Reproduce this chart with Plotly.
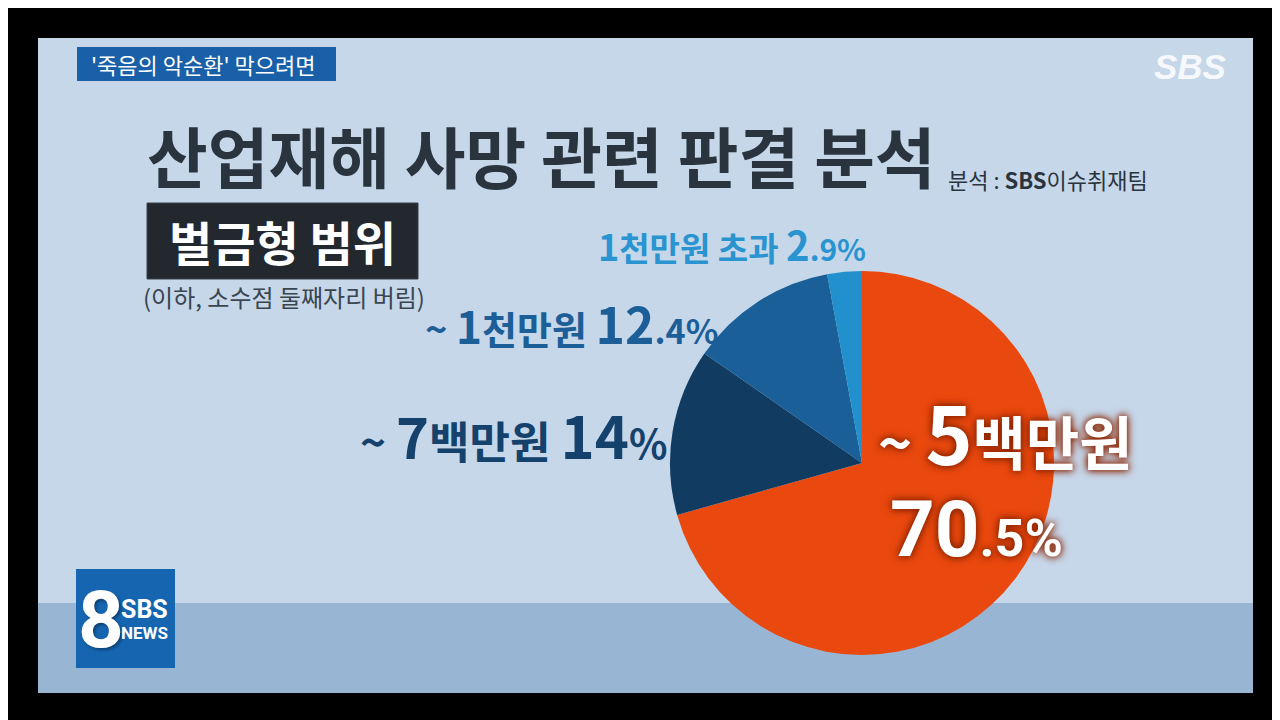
import plotly.graph_objects as go

# ---- data ----
categories = ["~ 5백만원", "~ 7백만원", "~ 1천만원", "1천만원 초과"]
values = [70.5, 14, 12.4, 2.9]
slice_colors = ["#e9490e", "#123b62", "#1a5f98", "#2290cc"]
label_colors = ["#ffffff", "#14426c", "#1c5e98", "#2a94d0"]

title_text = "산업재해 사망 관련 판결 분석"
source_text = "분석 : <b>SBS</b>이슈취재팀"
tag_text = "'죽음의 악순환' 막으려면"
box_text = "벌금형 범위"
note_text = "(이하, 소수점 둘째자리 버림)"

# page body has an 8px margin, so the figure is drawn 8px in from the corner
OFF = 8
W, H = 1280 - OFF, 720 - OFF
FONT = "Noto Sans CJK KR"


def px(x):
    return (x - OFF) / W


def py(y):
    return 1 - (y - OFF) / H


def pct(v, big, small):
    s = f"{v:g}"
    if "." in s:
        i, f = s.split(".")
        return (f'<span style="font-size:{big}px">{i}</span>'
                f'<span style="font-size:{small}px">.{f}%</span>')
    return (f'<span style="font-size:{big}px">{s}</span>'
            f'<span style="font-size:{small}px">%</span>')


def cat_text(c, base, digit):
    out = ""
    for ch in c:
        if ch.isdigit():
            out += f'<span style="font-size:{digit}px">{ch}</span>'
        else:
            out += ch
    return f'<span style="font-size:{base}px">{out}</span>'


fig = go.Figure()

cx, cy, r = 862, 463, 192
fig.add_trace(go.Pie(
    labels=categories,
    values=values,
    sort=False,
    direction="clockwise",
    rotation=0,
    marker=dict(colors=slice_colors, line=dict(width=0)),
    textinfo="none",
    hoverinfo="label+value",
    showlegend=False,
    domain=dict(x=[px(cx - r), px(cx + r)], y=[py(cy + r), py(cy - r)]),
))


def rect(x0, y0, x1, y1, color, line=None):
    return dict(type="rect", xref="paper", yref="paper",
                x0=px(x0), x1=px(x1), y0=py(y1), y1=py(y0),
                fillcolor=color, line=line or dict(width=0), layer="below")


shapes = [
    dict(type="rect", xref="paper", yref="paper", x0=0, x1=1, y0=0, y1=1,
         fillcolor="#000000", line=dict(width=0), layer="below"),
    rect(38, 38, 1253, 603, "#c6d7e9"),
    rect(38, 603, 1253, 693, "#98b5d4"),
    rect(77, 47, 336, 81, "#1960a8"),
    rect(147, 203, 418, 279, "#22282e", dict(width=1, color="#3a4148")),
    rect(76, 569, 175, 668, "#1565b0"),
]

ann = []


def A(text, x, y, size, color, xanchor="left", weight="normal", shadow="none", family=FONT):
    ann.append(dict(text=text, x=px(x), y=py(y), xref="paper", yref="paper",
                    xanchor=xanchor, yanchor="middle", showarrow=False, align="left",
                    font=dict(family=family, size=size, color=color, weight=weight,
                              shadow=shadow)))


A(tag_text, 89, 64, 22, "#ffffff")
A(title_text, 145, 154, 66, "#2a343e", weight="bold")
A(source_text, 946, 179, 22, "#2a343e")
A(box_text, 167, 240, 47, "#ffffff", weight="bold")
A(note_text, 141, 296, 24, "#3a4550")

# slice labels
A(cat_text(categories[3], 33, 36) + " " + pct(values[3], 40, 30), 596, 244, 33,
  label_colors[3], weight="bold")
A(cat_text(categories[2], 38, 44) + " " + pct(values[2], 50, 34), 423, 322, 38,
  label_colors[2], weight="bold")
A(cat_text(categories[1], 44, 56) + " " + pct(values[1], 58, 40), 358, 434, 44,
  label_colors[1], weight="bold")

glow = "0px 0px 6px #8a2400, 0px 0px 10px #8a2400"
A(cat_text(categories[0], 58, 80), 876, 430, 80, label_colors[0], weight="bold",
  shadow=glow)
A(pct(values[0], 78, 52), 888, 529, 78, label_colors[0], weight="bold",
  shadow=glow, family="Roboto")

# logos
A("<i>SBS</i>", 1190, 66, 35, "rgba(255,255,255,0.85)", xanchor="center", weight="bold",
  family="Liberation Sans")
A("8", 101, 620, 80, "#ffffff", xanchor="center", weight="bold", family="Roboto",
  shadow="2px 2px 3px rgba(0,0,0,0.35)")
A('<span style="font-size:25px">SBS</span><br>'
  '<span style="font-size:17px">NEWS</span>', 119, 619, 16, "#ffffff",
  weight="bold", family="Roboto")

fig.update_layout(
    width=W, height=H,
    margin=dict(l=0, r=0, t=0, b=0),
    paper_bgcolor="#000000",
    plot_bgcolor="#000000",
    shapes=shapes,
    annotations=ann,
    showlegend=False,
)

fig.write_html("out.html")
